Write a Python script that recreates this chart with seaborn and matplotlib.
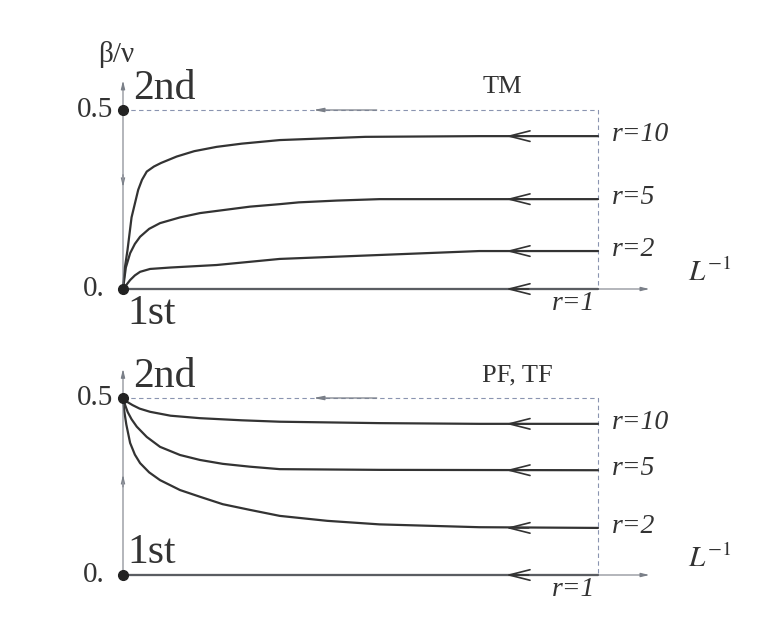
import matplotlib
matplotlib.use("Agg")
import matplotlib.pyplot as plt
import numpy as np
import pandas as pd
import seaborn as sns

# r values of the curves
r_labels = ["r=10", "r=5", "r=2", "r=1"]

# top panel (TM): flows from 1st (0) towards fixed values
tm_x = {
    "r=10": [0, 0.004, 0.0095, 0.018, 0.032, 0.04, 0.05, 0.065, 0.08, 0.113, 0.15, 0.197, 0.25, 0.33, 0.51, 0.75, 1.0],
    "r=5": [0, 0.006, 0.015, 0.025, 0.036, 0.055, 0.078, 0.12, 0.162, 0.267, 0.33, 0.37, 0.45, 0.54, 1.0],
    "r=2": [0, 0.008, 0.015, 0.025, 0.036, 0.057, 0.1, 0.197, 0.33, 0.54, 0.75, 1.0],
    "r=1": [0, 1.0],
}
tm_y = {
    "r=10": [0, 0.06, 0.109, 0.2, 0.277, 0.305, 0.328, 0.342, 0.352, 0.37, 0.385, 0.397, 0.406, 0.416, 0.425, 0.427, 0.427],
    "r=5": [0, 0.06, 0.10, 0.126, 0.146, 0.168, 0.184, 0.2, 0.212, 0.23, 0.237, 0.242, 0.247, 0.251, 0.251],
    "r=2": [0, 0.013, 0.025, 0.038, 0.048, 0.056, 0.06, 0.067, 0.084, 0.095, 0.106, 0.106],
    "r=1": [0, 0],
}

# bottom panel (PF, TF): flows from 2nd (0.5)
pf_x = {
    "r=10": [0, 0.01, 0.02, 0.035, 0.057, 0.1, 0.162, 0.25, 0.33, 0.54, 0.75, 1.0],
    "r=5": [0, 0.005, 0.01, 0.018, 0.029, 0.05, 0.078, 0.12, 0.162, 0.21, 0.267, 0.33, 0.54, 1.0],
    "r=2": [0, 0.003, 0.007, 0.015, 0.025, 0.036, 0.055, 0.078, 0.12, 0.162, 0.21, 0.267, 0.33, 0.43, 0.54, 0.75, 1.0],
    "r=1": [0, 1.0],
}
pf_y = {
    "r=10": [0.5, 0.488, 0.48, 0.47, 0.461, 0.45, 0.443, 0.437, 0.433, 0.429, 0.427, 0.427],
    "r=5": [0.5, 0.478, 0.46, 0.44, 0.419, 0.39, 0.362, 0.339, 0.325, 0.314, 0.306, 0.299, 0.297, 0.296],
    "r=2": [0.5, 0.46, 0.425, 0.373, 0.34, 0.316, 0.29, 0.268, 0.24, 0.221, 0.2, 0.184, 0.167, 0.153, 0.143, 0.135, 0.133],
    "r=1": [0, 0],
}

sns.set_style("white")
plt.rcParams['font.family'] = ['Liberation Serif', 'DejaVu Serif']

INK = "#333333"
AXC = "#7a7f88"
DASH = "#8a94b0"

fig = plt.figure(figsize=(7.57, 6.37), dpi=100)
W, H = 757.0, 637.0


def make_axes(y0_px, ppu):
    # x: 0..1 -> pixel 123..598, y pixels per unit = ppu
    xlo, xhi = -0.2, 1.3
    ylo, yhi = -0.12, 0.62
    left = 123 - 0.2 * 475
    width = (xhi - xlo) * 475
    bottom_px = y0_px - ylo * ppu
    height = (yhi - ylo) * ppu
    ax = fig.add_axes([left / W, (H - bottom_px) / H, width / W, height / H])
    ax.set_xlim(xlo, xhi)
    ax.set_ylim(ylo, yhi)
    ax.axis("off")
    return ax


def draw_panel(ax, xs, ys, title, ymid_arrow, arrow_up, top_panel):
    # axes
    ax.annotate("", xy=(1.114, 0), xytext=(0, 0),
                arrowprops=dict(arrowstyle="-|>,head_length=0.5,head_width=0.12", color=AXC, lw=0.8))
    ax.annotate("", xy=(0, 0.59), xytext=(0, 0),
                arrowprops=dict(arrowstyle="-|>,head_length=0.5,head_width=0.12", color=AXC, lw=0.8))
    # small arrow on y axis
    if arrow_up:
        ax.annotate("", xy=(0, ymid_arrow), xytext=(0, ymid_arrow - 0.05),
                    arrowprops=dict(arrowstyle="->,head_length=0.5,head_width=0.12", color=AXC, lw=0.8))
    else:
        ax.annotate("", xy=(0, ymid_arrow), xytext=(0, ymid_arrow + 0.05),
                    arrowprops=dict(arrowstyle="->,head_length=0.5,head_width=0.12", color=AXC, lw=0.8))
    # dashed box
    ax.plot([0, 1.0, 1.0], [0.5, 0.5, 0], ls=(0, (4, 3)), color=DASH, lw=0.8)
    ax.annotate("", xy=(0.395, 0.5), xytext=(0.54, 0.5),
                arrowprops=dict(arrowstyle="-|>,head_length=0.6,head_width=0.12", color=AXC, lw=0.9))

    for lab in r_labels:
        df = pd.DataFrame({"x": xs[lab], "y": ys[lab]})
        sns.lineplot(data=df, x="x", y="y", ax=ax, color=INK, lw=1.6,
                     estimator=None, sort=False, legend=False)
        yend = ys[lab][-1]
        ax.annotate("", xy=(0.8, yend), xytext=(0.86, yend),
                    arrowprops=dict(arrowstyle="->,head_length=1.5,head_width=0.38", color=INK, lw=1.2))
        if lab == "r=1":
            ax.text(0.903, yend - 0.04, lab, style="italic", fontsize=20, color=INK,
                    ha="left", va="center")
        else:
            ax.text(1.03, yend + 0.005, lab, style="italic", fontsize=20, color=INK,
                    ha="left", va="center")

    ax.set_xlabel("")
    ax.set_ylabel("")
    ax.plot([0, 0], [0, 0.5], "o", color="#222222", ms=7, zorder=5)
    ax.text(-0.021, 0.5, "0.5", fontsize=21, color=INK, ha="right", va="center")
    ax.text(-0.038, 0.0, "0.", fontsize=21, color=INK, ha="right", va="center")
    ax.text(0.021, 0.53, "2nd", fontsize=30, color=INK, ha="left", va="baseline")
    if top_panel:
        ax.text(0.01, -0.097, "1st", fontsize=30, color=INK, ha="left", va="baseline")
    else:
        ax.text(0.01, 0.034, "1st", fontsize=30, color=INK, ha="left", va="baseline")
    ax.text(0.756, 0.547, title, fontsize=19, color=INK, ha="left", va="baseline")
    ax.text(1.19, 0.0 + 0.005, r"$L^{-1}$", fontsize=21, color=INK, ha="left", va="bottom",
            math_fontfamily="stix")
    ax.axis("off")


ax1 = make_axes(289, 358)
draw_panel(ax1, tm_x, tm_y, "TM", 0.277, False, True)
ax1.text(-0.015, 0.655, "β/ν", fontsize=21, color=INK, ha="center", va="center")

ax2 = make_axes(575, 354)
draw_panel(ax2, pf_x, pf_y, "PF, TF", 0.291, True, False)

fig.savefig("out.png", dpi=100, facecolor="white")
